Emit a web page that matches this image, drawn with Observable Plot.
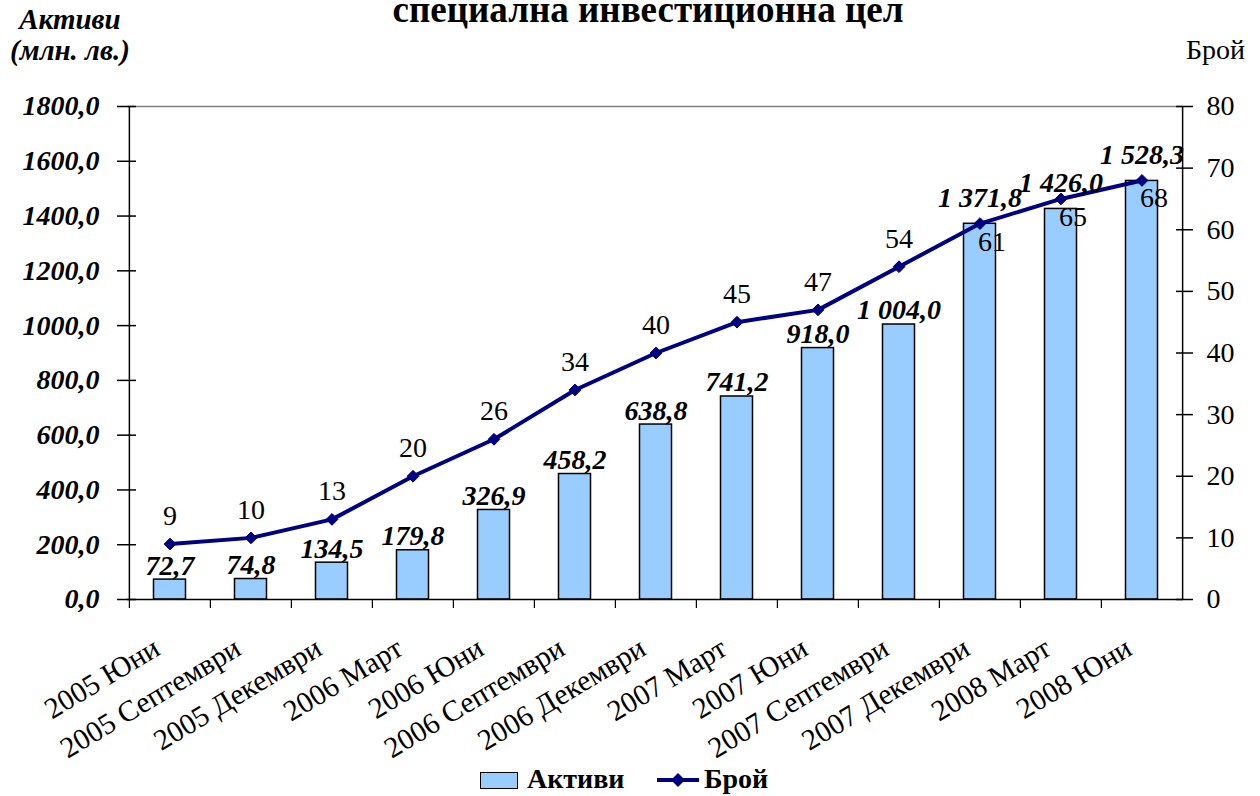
<!DOCTYPE html>
<html><head><meta charset="utf-8">
<script src="https://cdn.jsdelivr.net/npm/d3@7"></script>
<script src="https://cdn.jsdelivr.net/npm/@observablehq/plot@0.6"></script>
<style>
body{margin:0;background:#fff;font-family:"Liberation Serif","Times New Roman",serif;}
#wrap{position:relative;width:1260px;height:796px;overflow:hidden;background:#fff;}
.t{position:absolute;white-space:nowrap;color:#000;}
#chart{position:absolute;left:0;top:0;}
#title{left:648px;top:2px;transform:translateX(-50%);font-size:37px;font-weight:bold;line-height:16px;}
#ylab{left:70px;top:4px;transform:translateX(-50%);text-align:center;font-size:29px;font-weight:bold;font-style:italic;line-height:31px;}
#y2lab{right:15px;top:36px;font-size:28px;line-height:28px;}
.lg{position:absolute;font-size:28px;font-weight:bold;line-height:28px;top:765px;}
#sw1{position:absolute;left:480px;top:772px;width:38px;height:17px;box-sizing:border-box;border:1.5px solid #000;background:#99CCFF;}
#sw2{position:absolute;left:655px;top:770px;}
</style></head><body>
<div id="wrap">
  <div id="chart"></div>
  <div class="t" id="title">специална инвестиционна цел</div>
  <div class="t" id="ylab">Активи<br>(млн. лв.)</div>
  <div class="t" id="y2lab">Брой</div>
  <div id="sw1"></div>
  <div class="lg" style="left:527px">Активи</div>
  <svg id="sw2" width="46" height="20"><line x1="2" y1="10" x2="44" y2="10" stroke="#000080" stroke-width="4"/><path d="M23,3 L30,10 L23,17 L16,10Z" fill="#000080"/></svg>
  <div class="lg" style="left:704px">Брой</div>
</div>
<script>
const categories = ["2005 Юни","2005 Септември","2005 Декември","2006 Март","2006 Юни","2006 Септември","2006 Декември","2007 Март","2007 Юни","2007 Септември","2007 Декември","2008 Март","2008 Юни"];
const assets = [72.7, 74.8, 134.5, 179.8, 326.9, 458.2, 638.8, 741.2, 918.0, 1004.0, 1371.8, 1426.0, 1528.3];
const counts = [9, 10, 13, 20, 26, 34, 40, 45, 47, 54, 61, 65, 68];
const leftTicks = [0, 200, 400, 600, 800, 1000, 1200, 1400, 1600, 1800];
const rightTicks = [0, 10, 20, 30, 40, 50, 60, 70, 80];

const leftMax = 1800, rightMax = 80;
const K = leftMax / rightMax;
const rows = categories.map((c, i) => ({cat: c, assets: assets[i], count: counts[i], i}));
const navy = "#000080", barFill = "#99CCFF";
const W = 1260, H = 745, mL = 127, mR = 77, mT = 106, mB = 146;
const step = (W - mL - mR) / categories.length;
const fmt = v => { const [a, b] = v.toFixed(1).split("."); return a.replace(/\B(?=(\d{3})+(?!\d))/g, " ") + "," + b; };
const early = rows.filter(d => d.i < 10), late = rows.filter(d => d.i >= 10);

const chart = Plot.plot({
  width: W, height: H, marginLeft: mL, marginRight: mR, marginTop: mT, marginBottom: mB,
  style: {fontFamily: "Liberation Serif, Times New Roman, serif", fontSize: "28px", color: "#000", background: "transparent", overflow: "visible"},
  x: {type: "band", domain: categories, padding: 0, axis: null, label: null},
  y: {domain: [0, leftMax], axis: null, label: null},
  marks: [
    Plot.ruleY([leftMax], {stroke: "#808080", strokeWidth: 1.5}),
    Plot.barY(rows, {x: "cat", y: "assets", fill: barFill, stroke: "#000", strokeWidth: 1.5, insetLeft: 24.5, insetRight: 24.5}),
    Plot.ruleY([0], {stroke: "#000", strokeWidth: 1.5}),
    Plot.ruleX([categories[0]], {dx: -step / 2, stroke: "#000", strokeWidth: 1.5}),
    Plot.ruleX([categories[categories.length - 1]], {dx: step / 2, stroke: "#000", strokeWidth: 1.5}),
    Plot.ruleX(categories, {x: d => d, y1: () => 0, y2: () => 0, insetBottom: -9, dx: -step / 2, stroke: "#000", strokeWidth: 1.2}),
    Plot.axisY(leftTicks, {anchor: "left", tickSize: 19, dx: 9, tickFormat: () => "", stroke: "#000", strokeWidth: 1.5}),
    Plot.axisY(leftTicks, {anchor: "left", tickSize: 0, tickPadding: 28, tickFormat: d => d.toFixed(1).replace(".", ","), fontWeight: "bold", fontStyle: "italic", fontSize: 28}),
    Plot.axisY(rightTicks.map(v => v * K), {anchor: "right", tickSize: 17, dx: -8, tickFormat: () => "", stroke: "#000", strokeWidth: 1.5}),
    Plot.axisY(rightTicks.map(v => v * K), {anchor: "right", tickSize: 0, tickPadding: 23, tickFormat: v => String(Math.round(v / K)), fontSize: 28}),
    Plot.axisX({anchor: "bottom", tickSize: 0, tickPadding: 46, tickRotate: -31, dx: -13, fontSize: 29.5}),
    Plot.line(rows, {x: "cat", y: d => d.count * K, stroke: navy, strokeWidth: 4, strokeLinejoin: "round"}),
    Plot.dot(rows, {x: "cat", y: d => d.count * K, symbol: "diamond2", r: 5.3, fill: navy, stroke: navy, strokeWidth: 1}),
    Plot.text(early, {x: "cat", y: "assets", text: d => fmt(d.assets), dy: -14, fontWeight: "bold", fontStyle: "italic", fontSize: 28}),
    Plot.text(late, {x: "cat", y: "assets", text: d => fmt(d.assets), dy: -26, fontWeight: "bold", fontStyle: "italic", fontSize: 28}),
    Plot.text(early, {x: "cat", y: d => d.count * K, text: d => String(d.count), dy: -28, fontSize: 28}),
    Plot.text(late, {x: "cat", y: d => d.count * K, text: d => String(d.count), dx: 12, dy: 18, fontSize: 28})
  ]
});
document.getElementById("chart").appendChild(chart);
</script>
</body></html>
